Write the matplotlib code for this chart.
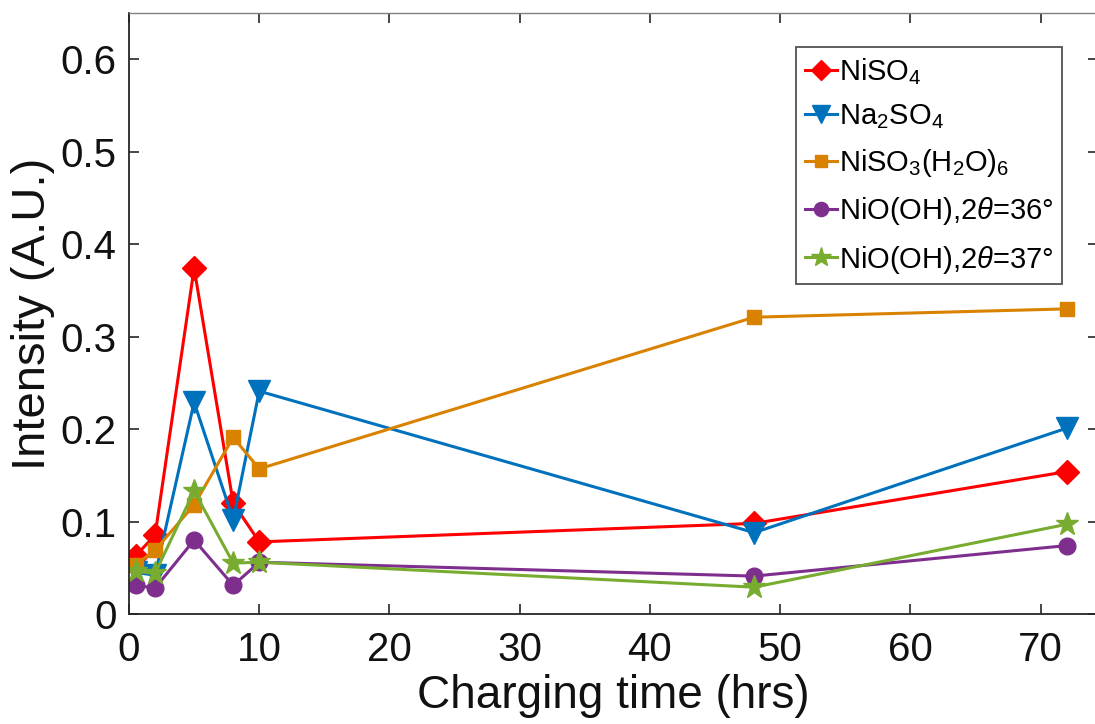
import numpy as np
from matplotlib import pyplot as plt

plt.rcParams['font.family'] = ['Liberation Sans', 'DejaVu Sans']
plt.rcParams['mathtext.fontset'] = 'custom'
plt.rcParams['mathtext.rm'] = 'Liberation Sans'
plt.rcParams['mathtext.it'] = 'Liberation Sans:italic'

# charging times (hrs)
hours = [0.5, 2, 5, 8, 10, 48, 72]

niso4 = [0.063, 0.085, 0.374, 0.120, 0.078, 0.098, 0.154]
na2so4 = [0.045, 0.042, 0.229, 0.102, 0.241, 0.088, 0.201]
niso3_h2o6 = [0.053, 0.069, 0.118, 0.191, 0.157, 0.321, 0.330]
niooh_36 = [0.031, 0.028, 0.080, 0.031, 0.056, 0.041, 0.074]
niooh_37 = [0.046, 0.044, 0.133, 0.055, 0.056, 0.029, 0.097]

series = [
    (niso4, r'NiSO$_4$', '#FF0000', 'D', 12),
    (na2so4, r'Na$_2$SO$_4$', '#0072BD', 'v', 16),
    (niso3_h2o6, r'NiSO$_3$(H$_2$O)$_6$', '#D98200', 's', 10),
    (niooh_36, r'NiO(OH),2$\theta$=36°', '#7E2F8E', 'o', 12),
    (niooh_37, r'NiO(OH),2$\theta$=37°', '#77AC30', '*', 17),
]

fig = plt.figure(figsize=(10.95, 7.24), dpi=100)
ax = fig.add_axes([129 / 1095, 110 / 724, (1098 - 129) / 1095, (614 - 13) / 724])

for values, label, color, marker, size in series:
    ax.plot(hours, values, color=color, marker=marker, markersize=size,
            linewidth=2.2, label=label)

ax.set_xlim(0, 74.4)
ax.set_ylim(0, 0.65)
ax.set_xticks(np.arange(0, 71, 10))
ax.set_yticks(np.arange(0, 0.61, 0.1))
ax.set_yticklabels(['0', '0.1', '0.2', '0.3', '0.4', '0.5', '0.6'])

ax.tick_params(direction='in', length=7, width=1.2, labelsize=29,
               top=True, right=True, color='#262626', labelcolor='#111111')
ax.tick_params(axis='x', pad=12)
ax.tick_params(axis='y', pad=9)
for side in ['left', 'bottom']:
    ax.spines[side].set_linewidth(1.3)
    ax.spines[side].set_color('#262626')
for side in ['top', 'right']:
    ax.spines[side].set_linewidth(1.0)
    ax.spines[side].set_color('#808080')

ax.set_xlabel('Charging time (hrs)', fontsize=33, labelpad=4, color='#111111')
ax.set_ylabel('Intensity (A.U.)', fontsize=34, labelpad=4, color='#111111')

leg = ax.legend(loc='upper right', bbox_to_anchor=(1062 / 1095, 1 - 47 / 724),
                bbox_transform=fig.transFigure, fontsize=21, frameon=True,
                fancybox=False, handlelength=1.1, handletextpad=0.05,
                borderpad=0.3, labelspacing=0.55, borderaxespad=0)
leg.get_frame().set_edgecolor('#262626')
leg.get_frame().set_linewidth(1.3)
for h in leg.legend_handles:
    h.set_markersize(h.get_markersize() * 0.85)

fig.savefig('out.png', dpi=100)
